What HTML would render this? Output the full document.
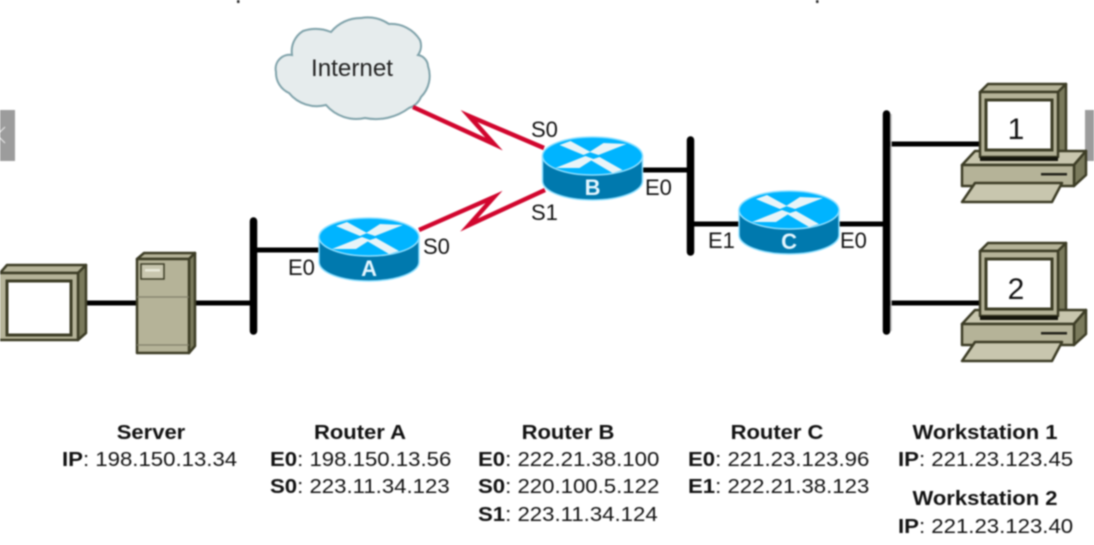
<!DOCTYPE html>
<html><head><meta charset="utf-8"><style>
html,body{margin:0;padding:0;background:#fff;width:1094px;height:545px;overflow:hidden}
svg{display:block;filter:blur(.7px)}
text{font-family:"Liberation Sans",sans-serif;fill:#111}
.l{font-size:20px}.b{font-weight:bold}.t{font-size:20px;font-weight:bold;text-anchor:middle}
.p{font-size:22px}
.r{font-size:22px;font-weight:bold;fill:#e4f6ff;text-anchor:middle}
.o{fill:#b5b398;stroke:#3d3d26;stroke-width:2.5;stroke-linejoin:round}
.s{fill:#7a7a5c;stroke:#3d3d26;stroke-width:2.5;stroke-linejoin:round}
.k{fill:#c8c6ae;stroke:#3d3d26;stroke-width:2.5;stroke-linejoin:round}
.w{fill:#fff;stroke:#3d3d26;stroke-width:3}
</style></head><body>
<svg width="1094" height="545" viewBox="0 0 1094 545" xmlns="http://www.w3.org/2000/svg">
<defs>
<g id="router">
<path d="M-50,0 L-50,25 A50,19 0 0 0 50,25 L50,0 Z" fill="#0079ae" stroke="#8fdfff" stroke-width="1.5"/>
<ellipse cx="0" cy="0" rx="50" ry="19" fill="#00b4ff" stroke="#8fdfff" stroke-width="1.5"/>
<g fill="#e8f4f8">
<polygon points="-33,-11 -22,-15 -2,-4 -9,-1"/>
<polygon points="34,-12 11,-13 -3,-4 6,-1"/>
<polygon points="-37,12 -13,12 1,3 -7,0"/>
<polygon points="30,14 20,17 -2,4 7,1"/>
</g>
</g>
<g id="ws">
<polygon class="o" points="980,92 988,84 1066,84 1058,92"/>
<polygon class="s" points="1058,92 1066,84 1066,152 1058,158"/>
<polygon class="k" points="962,165 975,151 1086,151 1074,165"/>
<polygon class="s" points="1074,165 1086,151 1086,175 1074,186"/>
<rect class="o" x="962" y="165" width="112" height="21"/>
<rect x="1041" y="173" width="26" height="2.5" fill="#22221a"/>
<polygon class="k" points="975,183 1062,183 1052,202 962,202"/>
<rect class="o" x="980" y="92" width="78" height="65"/>
<rect x="980" y="157" width="78" height="4" fill="#15150c"/>
<rect class="w" x="986" y="100" width="66" height="50"/>
</g>
</defs>
<rect width="1094" height="545" fill="#fff"/>
<rect x="0" y="110" width="15" height="51" fill="#9c9c9c"/>
<path d="M5,127 L-3,135 L5,143" fill="none" stroke="#e4e4e4" stroke-width="1.2"/>
<rect x="1085" y="110" width="9" height="51" fill="#9c9c9c"/>
<rect x="237" y="0" width="2.5" height="3" fill="#333"/>
<rect x="816" y="0" width="2.5" height="3" fill="#333"/>

<!-- cloud -->
<path d="M276,72 A14,14 0 0 1 292,55 A24,24 0 0 1 303,31 A40,40 0 0 1 331,32 A38,38 0 0 1 361,18 A38,38 0 0 1 389,24 A34,34 0 0 1 420,40 A16,16 0 0 1 418,55 A12,12 0 0 1 428,66 A30,30 0 0 1 421,97 A20,20 0 0 1 409,108 A55,55 0 0 1 365,118 A40,40 0 0 1 326,105 A36,36 0 0 1 289,93 A22,22 0 0 1 276,72 Z" fill="#e6eced" stroke="#7fa2aa" stroke-width="2"/>
<text x="352" y="76" textLength="82" lengthAdjust="spacingAndGlyphs" style="font-size:24px;text-anchor:middle;fill:#222">Internet</text>

<!-- serial links -->
<polyline points="413,107 494,144 469,116 544,148" fill="none" stroke="#d1062e" stroke-width="4.5" stroke-linejoin="miter" stroke-miterlimit="10"/>
<polyline points="419,230 494,197 469,225 545,190" fill="none" stroke="#d1062e" stroke-width="4.5" stroke-linejoin="miter" stroke-miterlimit="10"/>

<!-- ethernet -->
<g stroke="#000" stroke-width="5" fill="none">
<path d="M87,303H137M195,303H253M253,250H320M642,170H690M690,224H740M838,224H887M887,144H982M887,303H982"/>
</g>
<g stroke="#000" stroke-width="7.5" stroke-linecap="round">
<line x1="253.500" y1="221" x2="253.500" y2="331"/>
<line x1="690.500" y1="140" x2="690.500" y2="252"/>
<line x1="886.500" y1="114" x2="886.500" y2="331"/>
</g>
<line x1="891" y1="114" x2="891" y2="331" stroke="#bbb" stroke-width="1.5"/>

<!-- left monitor -->
<polygon class="o" points="0,273 7,265 86,265 78,273"/>
<polygon class="s" points="78,273 86,265 86,333 78,340"/>
<rect class="o" x="-3" y="273" width="81" height="67"/>
<rect class="w" x="7" y="281" width="64" height="54"/>

<!-- server -->
<polygon class="o" points="137,259 144,253 195,253 189,259"/>
<polygon class="s" points="189,259 195,253 195,346 189,353"/>
<rect class="o" x="137" y="259" width="52" height="94"/>
<rect x="141" y="264" width="23" height="15" fill="#c8c6ae" stroke="#3d3d26" stroke-width="1.500"/>
<rect x="145" y="269" width="15" height="2.500" fill="#e8e8d8"/>
<line x1="137" y1="297" x2="189" y2="297" stroke="#82806a" stroke-width="1.200"/>
<line x1="137" y1="345" x2="189" y2="345" stroke="#82806a" stroke-width="1.200"/>

<!-- routers -->
<g transform="translate(369,237)"><use href="#router"/><text class="r" y="39">A</text></g>
<g transform="translate(592.5,156)"><use href="#router"/><text class="r" y="39">B</text></g>
<g transform="translate(789,210)"><use href="#router"/><text class="r" y="39">C</text></g>

<!-- workstations -->
<use href="#ws"/>
<use href="#ws" y="159"/>
<text x="1016" y="139" style="font-size:30px;text-anchor:middle">1</text>
<text x="1016" y="299" style="font-size:30px;text-anchor:middle">2</text>

<!-- interface labels -->
<text class="p" x="531" y="137">S0</text>
<text class="p" x="531" y="220">S1</text>
<text class="p" x="423" y="254">S0</text>
<text class="p" x="288" y="275">E0</text>
<text class="p" x="645" y="195">E0</text>
<text class="p" x="708" y="248">E1</text>
<text class="p" x="840" y="248">E0</text>

<!-- address table -->
<g transform="translate(151,439) scale(1.1,1)"><text class="t">Server</text></g>
<g transform="translate(62,466) scale(1.11,1)"><text class="l"><tspan class="b">IP</tspan>: 198.150.13.34</text></g>

<g transform="translate(360,439) scale(1.1,1)"><text class="t">Router A</text></g>
<g transform="translate(270,466) scale(1.11,1)"><text class="l"><tspan class="b">E0</tspan>: 198.150.13.56</text></g>
<g transform="translate(270,493) scale(1.11,1)"><text class="l"><tspan class="b">S0</tspan>: 223.11.34.123</text></g>

<g transform="translate(568,439) scale(1.1,1)"><text class="t">Router B</text></g>
<g transform="translate(478,466) scale(1.11,1)"><text class="l"><tspan class="b">E0</tspan>: 222.21.38.100</text></g>
<g transform="translate(478,493) scale(1.11,1)"><text class="l"><tspan class="b">S0</tspan>: 220.100.5.122</text></g>
<g transform="translate(478,521) scale(1.11,1)"><text class="l"><tspan class="b">S1</tspan>: 223.11.34.124</text></g>

<g transform="translate(777,439) scale(1.1,1)"><text class="t">Router C</text></g>
<g transform="translate(688,466) scale(1.11,1)"><text class="l"><tspan class="b">E0</tspan>: 221.23.123.96</text></g>
<g transform="translate(688,493) scale(1.11,1)"><text class="l"><tspan class="b">E1</tspan>: 222.21.38.123</text></g>

<g transform="translate(985,439) scale(1.1,1)"><text class="t">Workstation 1</text></g>
<g transform="translate(898,466) scale(1.11,1)"><text class="l"><tspan class="b">IP</tspan>: 221.23.123.45</text></g>
<g transform="translate(985,505) scale(1.1,1)"><text class="t">Workstation 2</text></g>
<g transform="translate(898,533) scale(1.11,1)"><text class="l"><tspan class="b">IP</tspan>: 221.23.123.40</text></g>
</svg>
</body></html>
